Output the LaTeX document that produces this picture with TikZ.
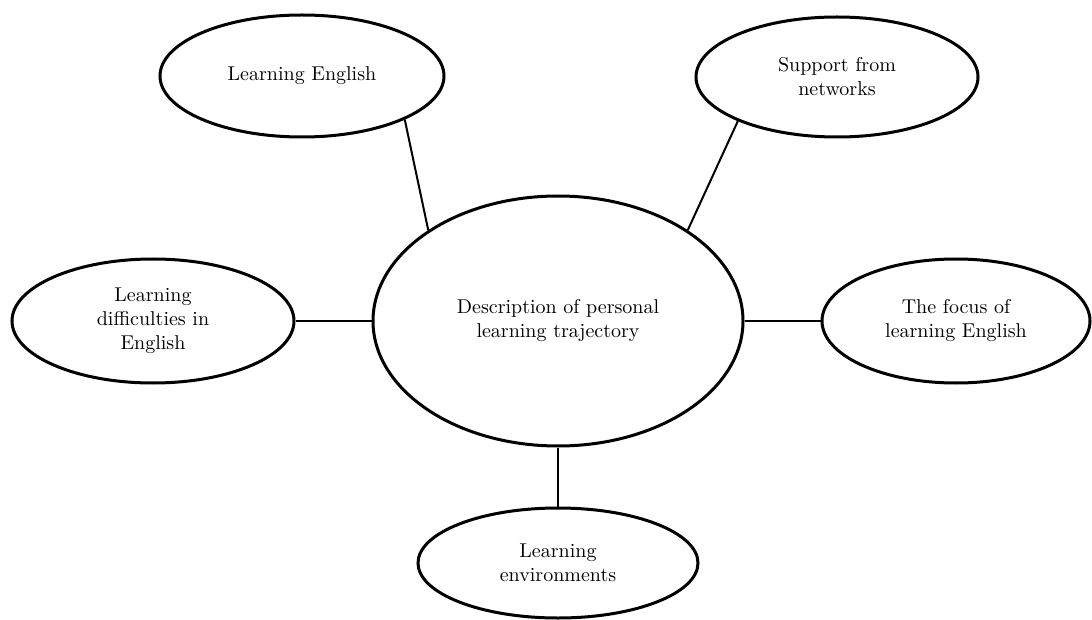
\documentclass[tikz,border=0pt]{standalone}
\usetikzlibrary{shapes.geometric}
\tikzset{
  bubble/.style={ellipse, draw=black, line width=1.5pt, fill=white, inner sep=0pt, align=center, font=\normalsize},
  link/.style={draw=black, line width=1pt}
}
\begin{document}
\begin{tikzpicture}[x=0.5pt, y=-0.5pt]
\useasboundingbox[fill=white] (0,0) rectangle (1092,620);
\node[bubble, minimum width=185pt, minimum height=125pt] (c) at (558,321) {Description of personal\\learning trajectory};
\node[bubble, minimum width=142pt, minimum height=61pt] (tl) at (302,76) {Learning English};
\node[bubble, minimum width=141pt, minimum height=60pt] (tr) at (837,77) {Support from\\networks};
\node[bubble, minimum width=141pt, minimum height=62pt] (l) at (153,321) {Learning\\difficulties in\\English};
\node[bubble, minimum width=134pt, minimum height=62pt] (r) at (956,321) {The focus of\\learning English};
\node[bubble, minimum width=140pt, minimum height=55pt] (b) at (558,563) {Learning\\environments};
\draw[link] (tl.-23.7) -- (c.145.5);
\draw[link] (tr.-156.7) -- (c.35.3);
\draw[link] (l.east) -- (c.west);
\draw[link] (r.west) -- (c.east);
\draw[link] (c.south) -- (b.north);
\end{tikzpicture}
\end{document}
